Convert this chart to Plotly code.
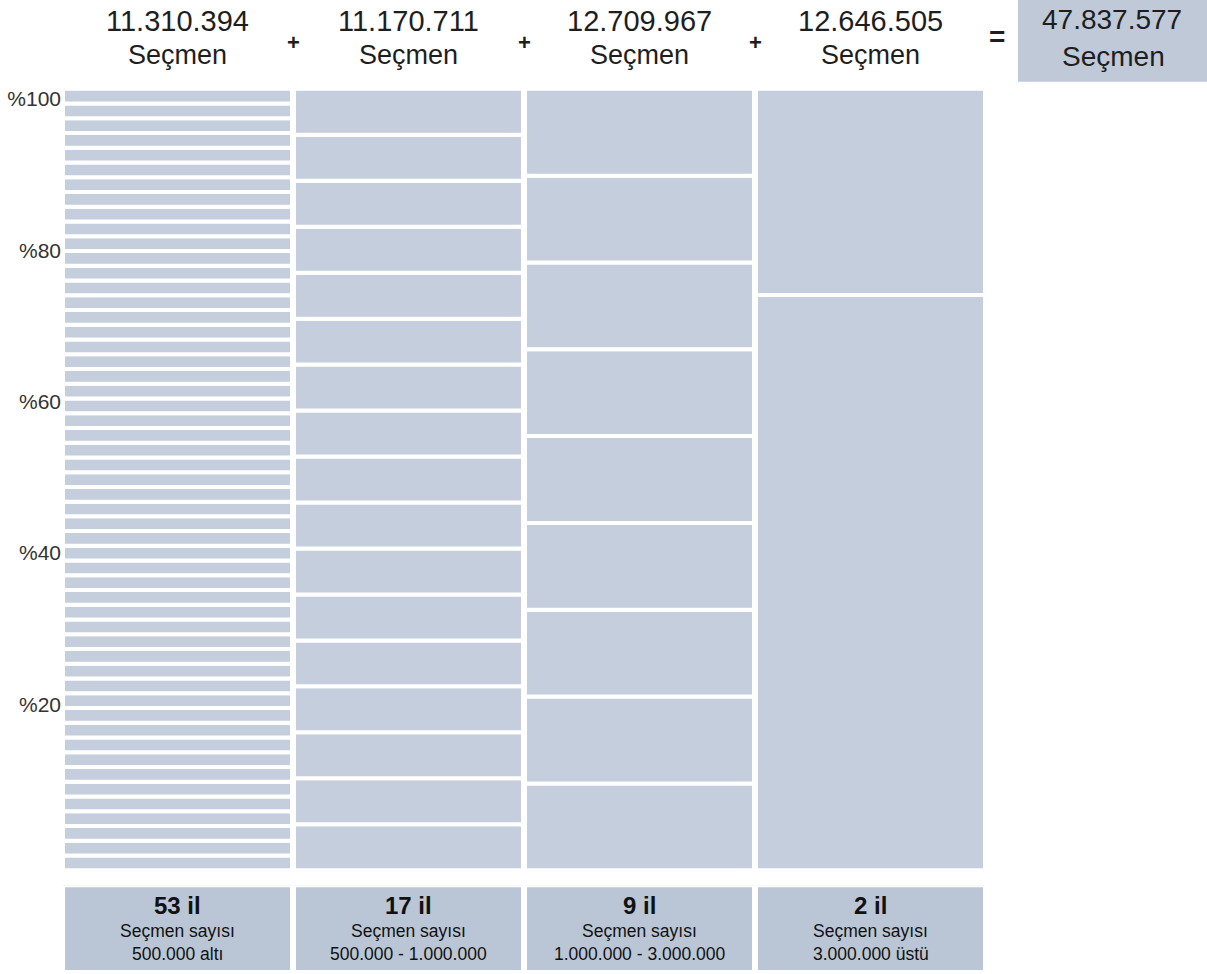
import numpy as np
import plotly.graph_objects as go

# ---------------- data ----------------
group_keys = [0, 1, 2, 3]
province_labels = ["53 il", "17 il", "9 il", "2 il"]
province_counts = [53, 17, 9, 2]
range_labels = ["500.000 altı", "500.000 - 1.000.000", "1.000.000 - 3.000.000", "3.000.000 üstü"]
voter_totals = ["11.310.394", "11.170.711", "12.709.967", "12.646.505"]
grand_total = "47.837.577"
unit_label = "Seçmen"
sub_label = "Seçmen sayısı"
# share (%) of each province block inside its group, bottom to top
shares_group1 = [100 / 53] * 53
shares_group2 = [100 / 17] * 17
shares_group3 = [100 / 9] * 9
shares_group4 = [73.6, 26.4]
group_shares = [shares_group1, shares_group2, shares_group3, shares_group4]
tick_values = [20, 40, 60, 80, 100]
tick_labels = ["%20", "%40", "%60", "%80", "%100"]

# ---------------- style ----------------
BAR = "#c4cedc"
BOX = "#bac6d5"
TOTAL_BOX = "#bfc9d8"
TXT = "#1e1e1e"
FONT = "Liberation Sans, Arial, sans-serif"
W, H = 1207, 974

pitch = 231
left = 177.5 - pitch / 2
right = left + 4 * pitch


def py(px):
    return 1 - px / H


def pxr(px):
    return (px - left) / (right - left)


fig = go.Figure()

for k, shares in zip(group_keys, group_shares):
    vals = np.array(shares, dtype=float)
    base = np.concatenate([[0], np.cumsum(vals)[:-1]])
    fig.add_trace(go.Bar(
        x=[k] * len(vals), y=vals, base=base,
        marker=dict(color=BAR, line=dict(color="white", width=4)),
        hoverinfo="skip", showlegend=False, xaxis="x", yaxis="y",
    ))

fig.add_trace(go.Bar(
    x=group_keys, y=[1] * len(group_keys),
    marker=dict(color=BOX, line=dict(color="white", width=4)),
    hoverinfo="skip", showlegend=False, xaxis="x", yaxis="y2",
))

# carrier for the percentage scale (invisible)
fig.add_trace(go.Scatter(
    x=[-0.5] * len(tick_values), y=tick_values, mode="markers",
    marker=dict(opacity=0), hoverinfo="skip", showlegend=False,
    xaxis="x", yaxis="y3",
))


def ann(x, y, text, size, xref="x", color=TXT):
    return dict(x=x, xref=xref, y=y, yref="paper", text=text, showarrow=False,
                font=dict(size=size, color=color, family=FONT),
                xanchor="center", yanchor="middle")


annotations = []
for k, lab, rng, tot in zip(group_keys, province_labels, range_labels, voter_totals):
    annotations.append(ann(k, py(19), tot, 29))
    annotations.append(ann(k, py(53), unit_label, 27))
    annotations.append(ann(k, py(905), "<b>" + lab + "</b>", 24, color="#111"))
    annotations.append(ann(k, py(931), sub_label, 17.5, color="#111"))
    annotations.append(ann(k, py(954), rng, 17.5, color="#111"))

for k in group_keys[:-1]:
    annotations.append(ann(k + 0.5, py(41), "<b>+</b>", 22))
annotations.append(ann(pxr(997), py(35), "<b>=</b>", 28, xref="paper"))
annotations.append(ann(pxr(1112), py(18), grand_total, 28, xref="paper"))
annotations.append(ann(pxr(1113), py(55), unit_label, 28, xref="paper"))

shapes = [dict(type="rect", xref="paper", yref="paper", x0=pxr(1018), x1=pxr(1210),
               y0=py(80), y1=py(-2), fillcolor=TOTAL_BOX, line=dict(width=0), layer="below")]

fig.update_layout(
    width=W, height=H,
    margin=dict(l=left, r=W - right, t=0, b=0),
    paper_bgcolor="white", plot_bgcolor="white",
    barmode="overlay", bargap=2 / pitch,
    font=dict(family=FONT, color=TXT),
    xaxis=dict(range=[-0.5, 3.5], visible=False, fixedrange=True),
    yaxis=dict(range=[0, 100], domain=[py(870), py(87)], visible=False, fixedrange=True),
    yaxis2=dict(range=[0, 1], domain=[py(972), py(885)], visible=False, fixedrange=True),
    yaxis3=dict(overlaying="y", anchor="x", side="left",
                range=[-1.878, 101.318],
                tickvals=tick_values, ticktext=tick_labels, showgrid=False,
                zeroline=False, showline=False, ticks="",
                tickfont=dict(size=21, color="#333", family=FONT), fixedrange=True),
    annotations=annotations,
    shapes=shapes,
    showlegend=False,
)

fig.write_html("out.html", config={"displayModeBar": False},
               post_script="document.body.style.margin='0';document.body.style.overflow='hidden';")
